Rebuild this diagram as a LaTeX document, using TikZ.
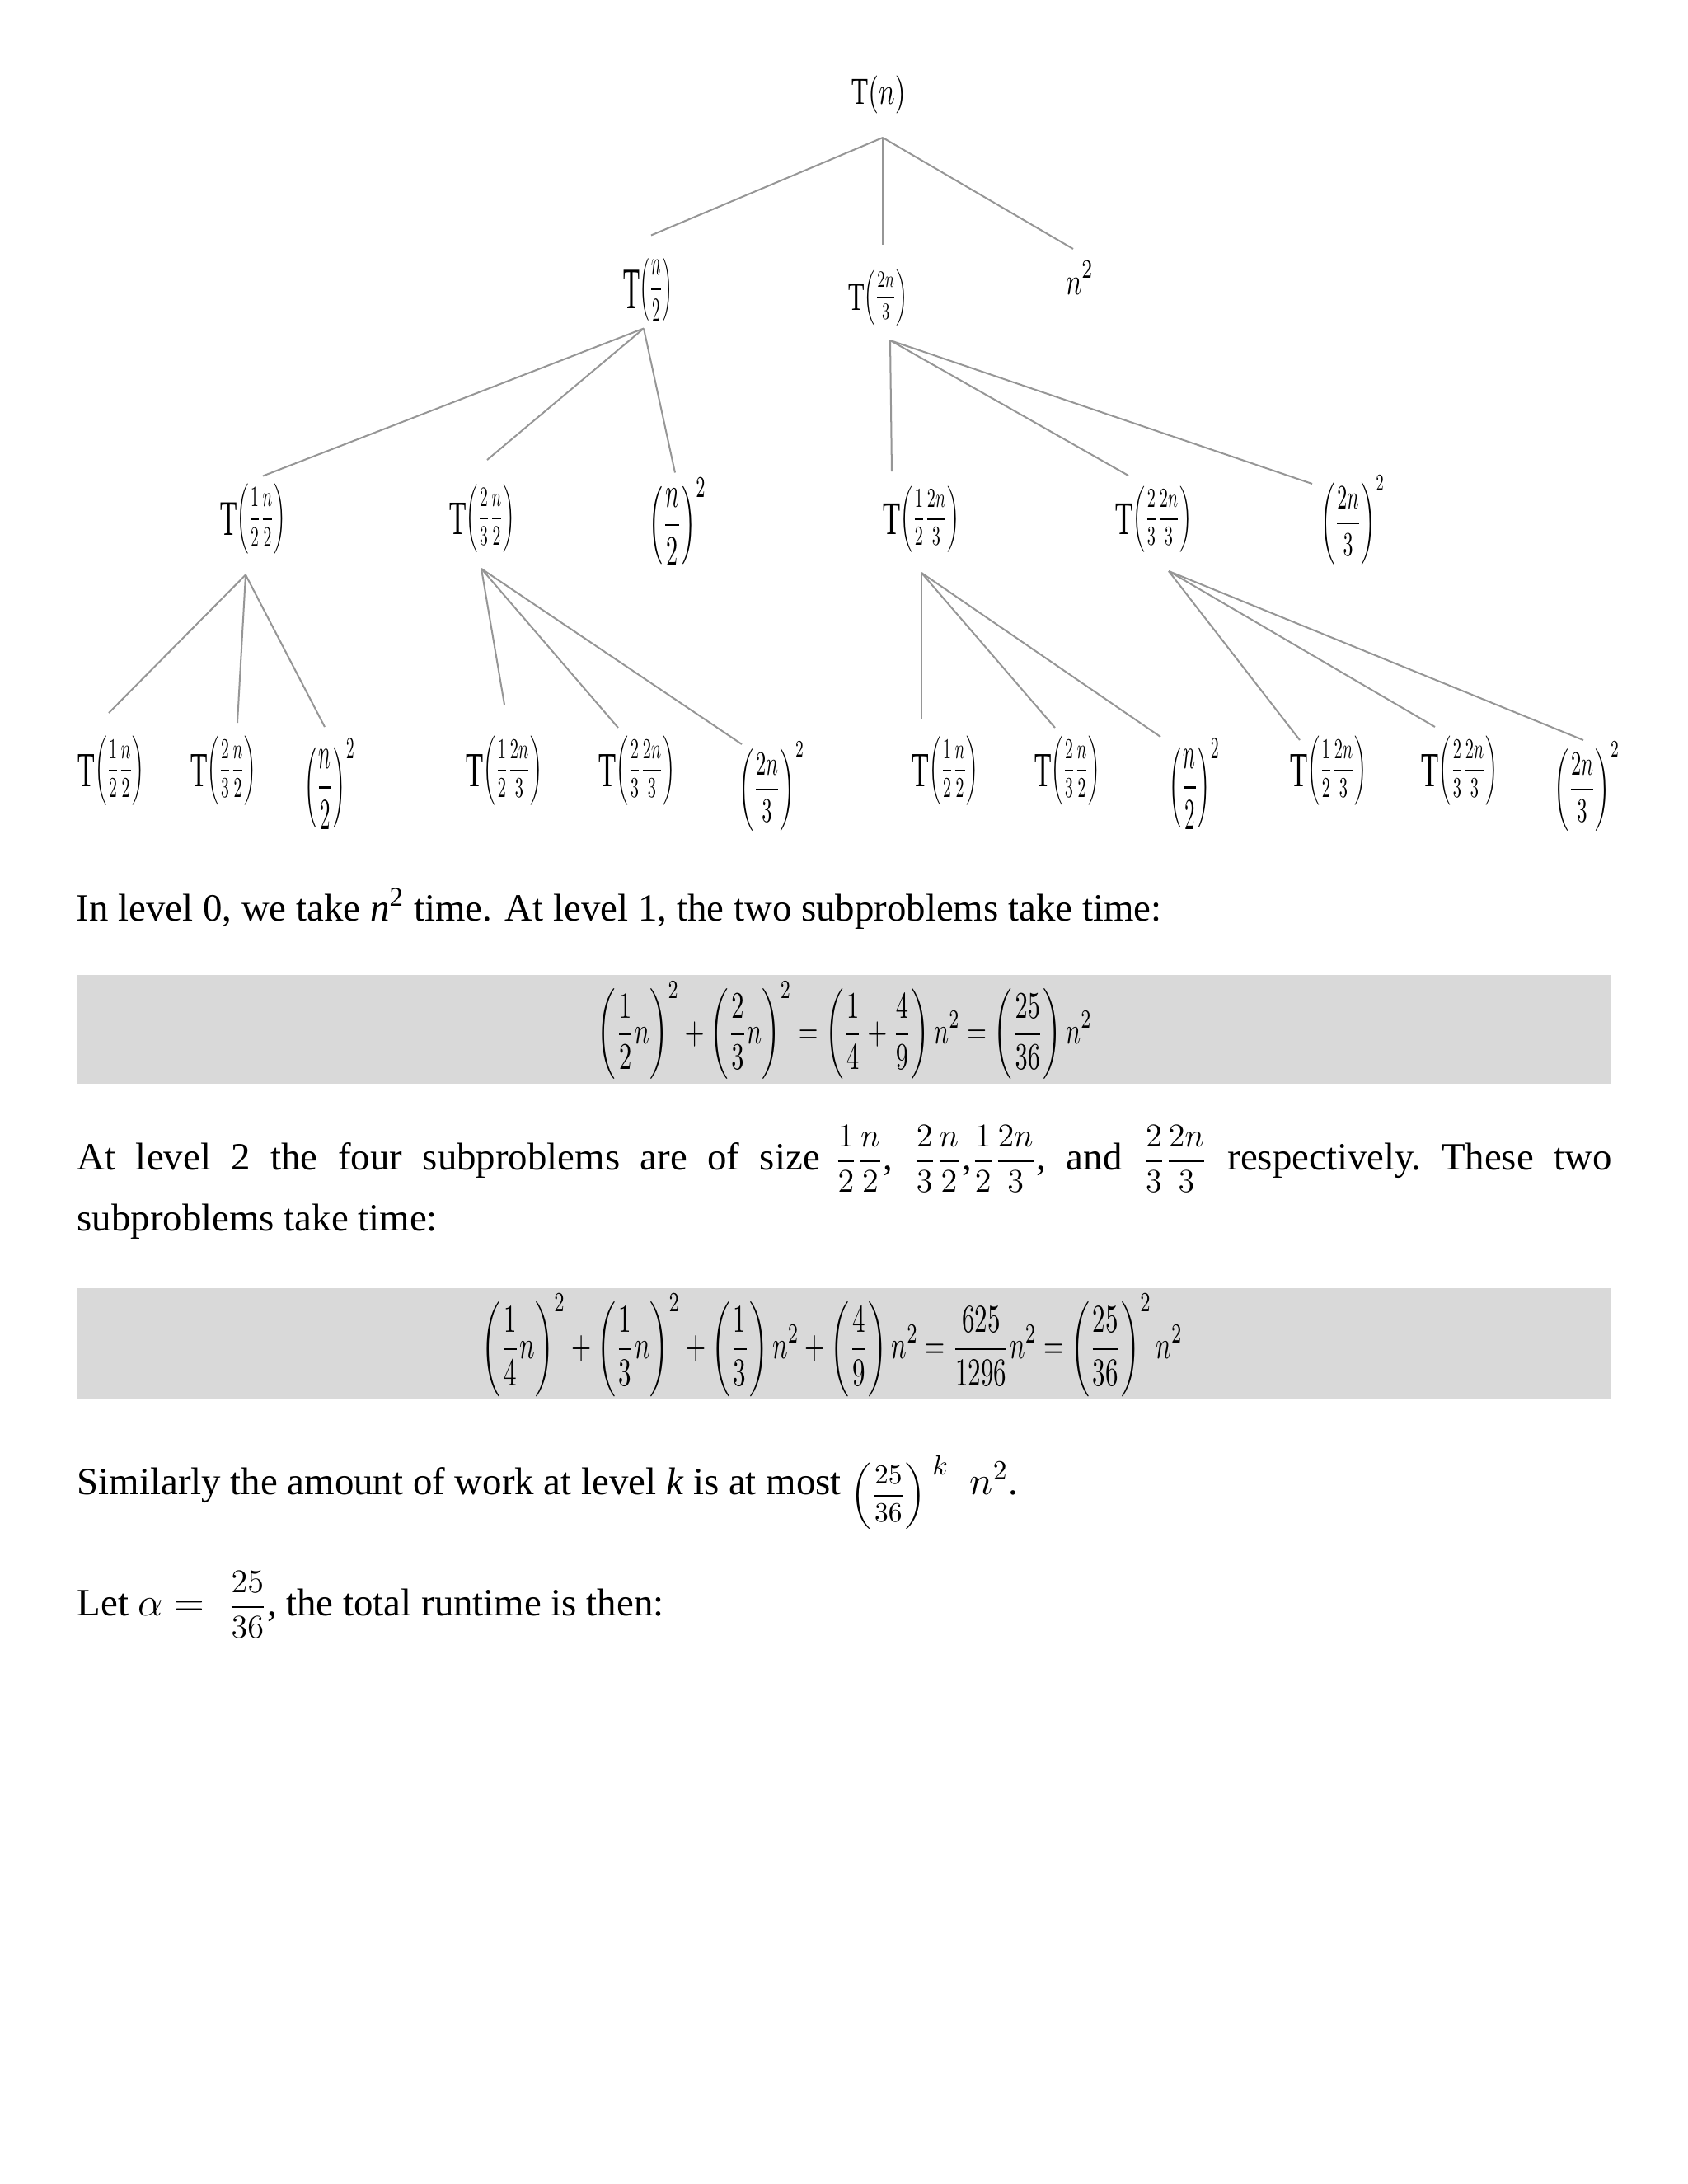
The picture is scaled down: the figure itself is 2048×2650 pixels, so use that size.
\documentclass[tikz,border=0pt]{standalone}
\usepackage{fontspec}
\setmainfont{Liberation Serif}
\usepackage{amsmath}
\usepackage{graphicx}
\usetikzlibrary{calc}
\newlength\pxl \setlength\pxl{0.2988pt}
\newcommand\fitb[3]{\resizebox*{#1\pxl}{#2\pxl}{$\displaystyle #3$}}
\newcommand\TT[1]{\vcenter{\hbox{\scalebox{1.7}{$\mathrm{T}$}}}\!\left(#1\right)}
\newcommand\smfr[2]{{\fontsize{12}{14}\selectfont$\dfrac{#1}{#2}$}}
\definecolor{boxgray}{RGB}{217,217,217}
\definecolor{linegray}{RGB}{150,150,150}
\begin{document}
\begin{tikzpicture}[x=0.2988pt,y=-0.2988pt,
  tn/.style={inner sep=0pt,outer sep=0pt},
  conn/.style={draw=linegray,line width=0.6pt},
  txt/.style={anchor=base west,inner sep=0pt,font=\fontsize{14}{17}\selectfont}]
\useasboundingbox[fill=white] (0,0) rectangle (2048,2650);
% level 0
\node[tn] (root) at (1066,115) {\fitb{65}{46}{\mathrm{T}\!\left(n\right)}};
% level 1
\node[tn] (a) at (786,352) {\fitb{59}{77}{\TT{\dfrac{n}{2}}}};
\node[tn] (b) at (1065,361) {\fitb{72}{68}{\TT{\dfrac{2n}{3}}}};
\node[tn] (c) at (1310,337) {\fitb{34}{40}{n^{2}}};
% level 2
\node[tn] (d) at (307,630) {\fitb{80}{85}{\TT{\dfrac{1}{2}\dfrac{n}{2}}}};
\node[tn] (e) at (585,629) {\fitb{80}{82}{\TT{\dfrac{2}{3}\dfrac{n}{2}}}};
\node[tn] (f) at (822,633) {\fitb{70}{107}{\left(\dfrac{n}{2}\right)^{2}}};
\node[tn] (g) at (1118,630) {\fitb{93}{80}{\TT{\dfrac{1}{2}\dfrac{2n}{3}}}};
\node[tn] (h) at (1400,630) {\fitb{93}{80}{\TT{\dfrac{2}{3}\dfrac{2n}{3}}}};
\node[tn] (i) at (1641,631) {\fitb{78}{108}{\left(\dfrac{2n}{3}\right)^{2}}};
% level 3
\node[tn] (l1) at (135,935) {\fitb{81}{84}{\TT{\dfrac{1}{2}\dfrac{n}{2}}}};
\node[tn] (l2) at (271,935) {\fitb{80}{84}{\TT{\dfrac{2}{3}\dfrac{n}{2}}}};
\node[tn] (l3) at (400,951) {\fitb{62}{110}{\left(\dfrac{n}{2}\right)^{2}}};
\node[tn] (l4) at (612,935) {\fitb{93}{84}{\TT{\dfrac{1}{2}\dfrac{2n}{3}}}};
\node[tn] (l5) at (773,935) {\fitb{93}{84}{\TT{\dfrac{2}{3}\dfrac{2n}{3}}}};
\node[tn] (l6) at (936,954) {\fitb{80}{108}{\left(\dfrac{2n}{3}\right)^{2}}};
\node[tn] (l7) at (1147,935) {\fitb{81}{84}{\TT{\dfrac{1}{2}\dfrac{n}{2}}}};
\node[tn] (l8) at (1295,935) {\fitb{80}{84}{\TT{\dfrac{2}{3}\dfrac{n}{2}}}};
\node[tn] (l9) at (1449,951) {\fitb{62}{110}{\left(\dfrac{n}{2}\right)^{2}}};
\node[tn] (l10) at (1612,935) {\fitb{93}{84}{\TT{\dfrac{1}{2}\dfrac{2n}{3}}}};
\node[tn] (l11) at (1771,935) {\fitb{93}{84}{\TT{\dfrac{2}{3}\dfrac{2n}{3}}}};
\node[tn] (l12) at (1925,954) {\fitb{80}{108}{\left(\dfrac{2n}{3}\right)^{2}}};
% junctions
\coordinate (rj) at ($(root.south)+(5,29)$);
\coordinate (aj) at ($(a.south)+(-5,8)$);
\coordinate (bj) at ($(b.south)+(15,18)$);
\coordinate (dj) at ($(d.south)+(-9,25)$);
\coordinate (ej) at ($(e.south)+(-1,20)$);
\coordinate (gj) at ($(g.south)+(0,25)$);
\coordinate (hj) at ($(h.south)+(18,23)$);
% connectors
\draw[conn] (rj) -- ($(a.north)+(4,-28)$);
\draw[conn] (rj) -- ($(b.north)+(6,-30)$);
\draw[conn] (rj) -- ($(c.north)+(-8,-15)$);
\draw[conn] (aj) -- ($(d.north)+(12,-10)$);
\draw[conn] (aj) -- ($(e.north)+(6,-30)$);
\draw[conn] (aj) -- ($(f.north)+(-3,-6)$);
\draw[conn] (bj) -- ($(g.north)+(-36,-18)$);
\draw[conn] (bj) -- ($(h.north)+(-31,-13)$);
\draw[conn] (bj) -- ($(i.north)+(-49,10)$);
\draw[conn] (dj) -- ($(l1.north)+(-3,-28)$);
\draw[conn] (dj) -- ($(l2.north)+(17,-16)$);
\draw[conn] (dj) -- ($(l3.north)+(-6,-14)$);
\draw[conn] (ej) -- ($(l4.north)+(0,-38)$);
\draw[conn] (ej) -- ($(l5.north)+(-23,-10)$);
\draw[conn] (ej) -- ($(l6.north)+(-36,3)$);
\draw[conn] (gj) -- ($(l7.north)+(-29,-20)$);
\draw[conn] (gj) -- ($(l8.north)+(-15,-10)$);
\draw[conn] (gj) -- ($(l9.north)+(-41,-2)$);
\draw[conn] (hj) -- ($(l10.north)+(-35,5)$);
\draw[conn] (hj) -- ($(l11.north)+(-30,-11)$);
\draw[conn] (hj) -- ($(l12.north)+(-4,-2)$);
% text
\node[txt] (p1) at (92,1117) {In level 0, we take \textit{n}\textsuperscript{2} time. At level 1, the two subproblems take time:};
\fill[boxgray] (93,1183) rectangle (1955,1315);
\node[tn] (eq1) at (1025,1250) {\fitb{600}{119}{\left(\dfrac{1}{2}n\right)^{2}+\left(\dfrac{2}{3}n\right)^{2}=\left(\dfrac{1}{4}+\dfrac{4}{9}\right)n^{2}=\left(\dfrac{25}{36}\right)n^{2}}};
\node[txt] (p2a) at (93,1419) {\makebox[1862\pxl][s]{\frenchspacing At level 2 the four subproblems are of size\hspace{-2pt} \smfr{1}{2}\smfr{n}{2}, \smfr{2}{3}\smfr{n}{2},\smfr{1}{2}\smfr{2n}{3}, and \smfr{2}{3}\smfr{2n}{3} respectively. These two}};
\node[txt] (p2b) at (93,1493) {subproblems take time:};
\fill[boxgray] (93,1563) rectangle (1955,1698);
\node[tn] (eq2) at (1010,1632) {\fitb{850}{125}{\left(\dfrac{1}{4}n\right)^{2}+\left(\dfrac{1}{3}n\right)^{2}+\left(\dfrac{1}{3}\right)n^{2}+\left(\dfrac{4}{9}\right)n^{2}=\dfrac{625}{1296}n^{2}=\left(\dfrac{25}{36}\right)^{2}n^{2}}};
\node[txt] (p3) at (93,1813) {Similarly the amount of work at level \textit{k} is at most $\raisebox{-4.2pt}{$\vcenter{\hbox{\fontsize{10}{12}\selectfont$\left(\dfrac{25}{36}\right)$}}$}\mkern3mu\raisebox{7pt}{$\scriptstyle k$}\;\;n^{2}$.};
\node[txt] (p4) at (93,1960) {Let $\alpha=$\hspace{5pt} \smfr{25}{36}, the total runtime is then:};
\end{tikzpicture}
\end{document}
